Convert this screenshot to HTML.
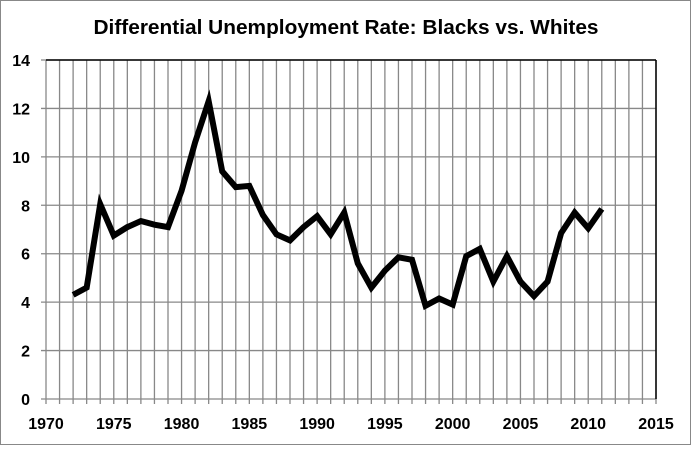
<!DOCTYPE html>
<html><head><style>body{margin:0;background:#fff}</style></head><body>
<svg width="692" height="446" xmlns="http://www.w3.org/2000/svg" font-family="Liberation Sans, sans-serif">
<rect x="0.5" y="0.5" width="690" height="444" fill="#fff" stroke="#888"/>
<text x="346" y="34" text-anchor="middle" font-size="20.5" font-weight="bold" textLength="505" lengthAdjust="spacingAndGlyphs">Differential Unemployment Rate: Blacks vs. Whites</text>
<g id="g" stroke="#888" stroke-width="1.3"></g>
<line x1="46" y1="60" x2="656" y2="60" stroke="#000" stroke-width="1.5"/>
<line x1="656" y1="60" x2="656" y2="399" stroke="#000" stroke-width="1.5"/>
<g id="lab" font-size="16" font-weight="bold"></g>
<polyline id="p" fill="none" stroke="#000" stroke-width="6" stroke-linejoin="miter"/>
<script>
var g=document.getElementById('g'),lab=document.getElementById('lab'),ns='http://www.w3.org/2000/svg';
function L(a,b,c,d){var l=document.createElementNS(ns,'line');l.setAttribute('x1',a);l.setAttribute('y1',b);l.setAttribute('x2',c);l.setAttribute('y2',d);g.appendChild(l);}
function T(x,y,s,anc){var t=document.createElementNS(ns,'text');t.setAttribute('x',x);t.setAttribute('y',y);t.setAttribute('text-anchor',anc);t.textContent=s;lab.appendChild(t);}
var X=function(yr){return 46+(yr-1970)*610/45},Y=function(v){return 399-v*339/14};
for(var i=0;i<=45;i++){L(X(1970+i),60,X(1970+i),404);}
for(var v=0;v<=14;v+=2){L(41,Y(v),656,Y(v));T(30,Y(v)+6,v,'end');}
for(var y=1970;y<=2015;y+=5)T(X(y),429,y,'middle');
var d=[4.3,4.6,8.05,6.75,7.1,7.35,7.2,7.1,8.6,10.6,12.3,9.4,8.75,8.8,7.6,6.8,6.55,7.1,7.55,6.8,7.7,5.6,4.6,5.3,5.85,5.75,3.85,4.15,3.9,5.9,6.2,4.85,5.9,4.85,4.25,4.85,6.85,7.7,7.05,7.85];
document.getElementById('p').setAttribute('points',d.map(function(v,i){return X(1972+i)+','+Y(v)}).join(' '));
</script>
</svg>
</body></html>
